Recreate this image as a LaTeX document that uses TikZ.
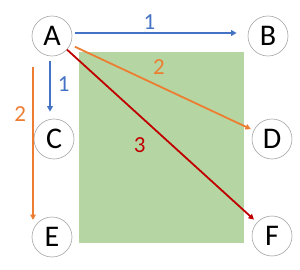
\documentclass[tikz,border=0pt]{standalone}
\usepackage{fontspec}
\setmainfont{Carlito}
\usepackage{xcolor}
\usetikzlibrary{arrows.meta, calc}

\definecolor{edgeblue}{RGB}{68,114,196}
\definecolor{edgeorange}{RGB}{237,125,49}
\definecolor{edgered}{RGB}{192,0,0}
\definecolor{areagreen}{RGB}{181,214,163}

\tikzset{
  vertex/.style={draw=gray!70, line width=0.6pt, fill=white, circle, minimum size=40pt, inner sep=0pt, font=\fontsize{30}{32}\selectfont},
  weight/.style={font=\fontsize{23}{25}\selectfont, inner sep=3pt},
  link/.style={->, line width=1.8pt}
}

\begin{document}
\begin{tikzpicture}[x=1pt, y=-1pt, >={Triangle[length=5.5pt, width=5.5pt]}]
  \useasboundingbox (0,0) rectangle (300,270);
  \fill[areagreen] (79,52) rectangle (244,243);
  \node[vertex] (A) at (52,36) {A};
  \node[vertex] (B) at (268,36) {B};
  \node[vertex] (C) at (54,139) {C};
  \node[vertex] (D) at (272,139) {D};
  \node[vertex] (E) at (52,237) {E};
  \node[vertex] (F) at (272,236) {F};
  \coordinate (Etop) at (33,67);
  \coordinate (Eend) at (33,220);
  \draw[link, edgeblue, shorten <=3pt, shorten >=11pt] ([yshift=3pt]A.east) -- ([yshift=3pt]B.west) node[weight, pos=0.44, above, text=edgeblue] {1};
  \draw[link, edgeblue, shorten <=5pt, shorten >=7pt] ([xshift=-2pt]A.south) -- ([xshift=-4pt]C.north) node[weight, pos=0.44, right, xshift=4pt, text=edgeblue] {1};
  \draw[link, edgeorange, shorten <=5pt, shorten >=3pt] (A) -- (D) node[weight, pos=0.43, anchor=south west, yshift=3pt, text=edgeorange] {2};
  \draw[link, edgered, shorten >=4pt] (A) -- (F) node[weight, pos=0.46, below left=5pt, text=edgered] {3};
  \draw[link, edgeorange] (Etop) -- (Eend) node[weight, pos=0.31, left, xshift=-3pt, text=edgeorange] {2};
\end{tikzpicture}
\end{document}
